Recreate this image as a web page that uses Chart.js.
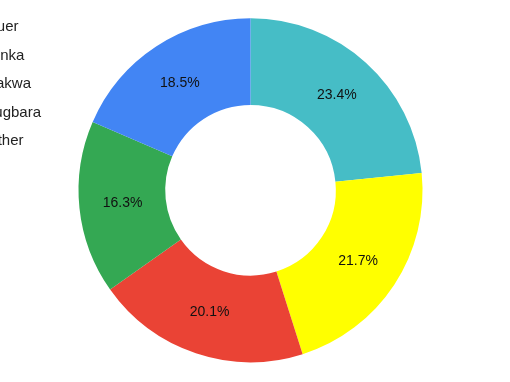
<!DOCTYPE html>
<html>
<head>
<meta charset="utf-8">
<script src="https://cdn.jsdelivr.net/npm/chart.js@4/dist/chart.umd.min.js"></script>
<style>
  html, body { margin: 0; padding: 0; background: #fff; overflow: hidden; }
  #wrap { position: absolute; left: -63px; top: 0; width: 575px; height: 382px; }
</style>
</head>
<body>
<div id="wrap"><canvas id="chart"></canvas></div>
<script>
const labels = ['Nuer', 'Dinka', 'Kakwa', 'Lugbara', 'Other'];
const shares = [18.5, 16.3, 20.1, 21.7, 23.4];
const colors = ['#4285F4', '#34A853', '#EA4335', '#FFFF00', '#46BDC6'];

// slices run counter-clockwise from the top, so feed them reversed
const rev = arr => arr.slice().reverse();

const pctLabels = {
    id: 'pctLabels',
    afterDatasetsDraw(chart) {
        const c = chart.ctx;
        const meta = chart.getDatasetMeta(0);
        const vals = chart.data.datasets[0].data;
        c.save();
        c.font = '14px "Liberation Sans", Arial, sans-serif';
        c.fillStyle = '#111';
        c.textAlign = 'center';
        c.textBaseline = 'middle';
        meta.data.forEach((arc, i) => {
            const p = arc.tooltipPosition();
            c.fillText(vals[i].toFixed(1) + '%', p.x, p.y);
        });
        c.restore();
    }
};

const ctx = document.getElementById('chart').getContext('2d');
new Chart(ctx, {
    type: 'doughnut',
    data: {
        labels: rev(labels),
        datasets: [{
            data: rev(shares),
            backgroundColor: rev(colors),
            borderWidth: 0
        }]
    },
    options: {
        responsive: true,
        maintainAspectRatio: false,
        animation: false,
        radius: 172,
        cutout: '49.6%',
        layout: { padding: { top: 6, bottom: 7.5, right: 62 } },
        plugins: {
            tooltip: { enabled: false },
            legend: {
                position: 'left',
                align: 'start',
                reverse: true,
                labels: {
                    boxWidth: 28,
                    boxHeight: 15,
                    padding: 13.5,
                    color: '#222',
                    font: { family: '"Liberation Sans", Arial, sans-serif', size: 15 }
                }
            }
        }
    },
    plugins: [pctLabels]
});
</script>
</body>
</html>
